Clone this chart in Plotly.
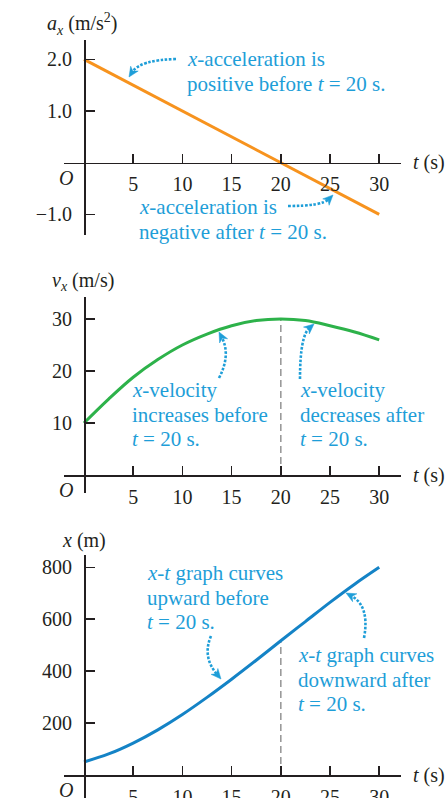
import plotly.graph_objects as go

W, H = 446, 798

# ---------------- data ----------------
t_acc = [0, 30]
a_x = [2.0, -1.0]

t_vel = [0, 2.5, 5, 7.5, 10, 12.5, 15, 17.5, 20, 22.5, 25, 27.5, 30]
v_x = [10.0, 14.6, 18.8, 22.2, 25.0, 27.1, 28.7, 29.7, 30.0, 29.7, 28.7, 27.5, 26.0]

t_pos = [0, 2.5, 5, 7.5, 10, 12.5, 15, 17.5, 20, 22.5, 25, 27.5, 30]
x_pos = [50, 81, 123, 174, 233, 299, 369, 442, 517, 591, 665, 735, 800]

t_ticks = [5, 10, 15, 20, 25, 30]
a_ticks = [-1.0, 1.0, 2.0]
v_ticks = [10, 20, 30]
x_ticks = [200, 400, 600, 800]

t_mark = 20
v_at_mark = 30.0
x_at_mark = 517

# ---------------- styles ----------------
ORANGE = "#F7931E"
GREEN = "#2DB24A"
BLUE_LINE = "#1483C6"
BLUE_TXT = "#1E9ED8"
INK = "#231F20"
GREY = "#9A9A9A"
FONT = "Liberation Serif"
FS = 20
FS_NOTE = 21


def px(x):
    return x / W


def py(y):
    return 1 - y / H


T0 = 84.0      # pixel of t = 0
TPX = 9.84     # pixels per second
XDOM = (64, 401)

panels = [
    dict(ydom=(40, 235), zero=162.7, scale=51.7),
    dict(ydom=(297, 493), zero=475.0, scale=5.2),
    dict(ydom=(555, 798), zero=775.0, scale=0.2596),
]

fig = go.Figure()

fig.add_trace(go.Scatter(x=t_acc, y=a_x, mode="lines", xaxis="x", yaxis="y",
                         line=dict(color=ORANGE, width=3), hoverinfo="skip"))
fig.add_trace(go.Scatter(x=t_vel, y=v_x, mode="lines", xaxis="x2", yaxis="y2",
                         line=dict(color=GREEN, width=3, shape="spline"), hoverinfo="skip"))
fig.add_trace(go.Scatter(x=t_pos, y=x_pos, mode="lines", xaxis="x3", yaxis="y3",
                         line=dict(color=BLUE_LINE, width=3, shape="spline"), hoverinfo="skip"))

xrange_ = [(XDOM[0] - T0) / TPX, (XDOM[1] - T0) / TPX]
yticksets = [(a_ticks, [f"{v:.1f}".replace("-", "\u2212") for v in a_ticks]),
             (v_ticks, [str(v) for v in v_ticks]),
             (x_ticks, [str(v) for v in x_ticks])]

layout = dict(
    width=W, height=H, margin=dict(l=0, r=0, t=0, b=0, pad=0, autoexpand=False),
    paper_bgcolor="white", plot_bgcolor="rgba(0,0,0,0)", showlegend=False,
    font=dict(family=FONT, size=FS, color=INK),
)

for i, p in enumerate(panels):
    sfx = "" if i == 0 else str(i + 1)
    yr = [(p["zero"] - p["ydom"][1]) / p["scale"], (p["zero"] - p["ydom"][0]) / p["scale"]]
    ydom = [py(p["ydom"][1]), py(p["ydom"][0])]
    layout["xaxis" + sfx] = dict(
        domain=[px(XDOM[0]), px(XDOM[1])], range=xrange_, anchor="free",
        position=py(p["zero"]), showgrid=False, zeroline=False, automargin=False,
        showline=True, linecolor=INK, linewidth=1.5,
        ticks="inside", ticklen=9, tickwidth=1.5, tickcolor=INK,
        tickvals=t_ticks, ticktext=[str(v) for v in t_ticks],
        tickfont=dict(family=FONT, size=FS, color=INK), ticklabelstandoff=3,
        fixedrange=True,
    )
    tv, tt = yticksets[i]
    layout["yaxis" + sfx] = dict(
        domain=ydom, range=yr, anchor="free", position=px(T0),
        showgrid=False, zeroline=False, automargin=False,
        showline=True, linecolor=INK, linewidth=1.5,
        ticks="inside", ticklen=9, tickwidth=1.5, tickcolor=INK,
        tickvals=tv, ticktext=tt,
        tickfont=dict(family=FONT, size=FS, color=INK), ticklabelstandoff=8,
        fixedrange=True,
    )

fig.update_layout(**layout)

ann = []


def text(x, y, s, color=INK, anchor="left", size=FS):
    ann.append(dict(xref="paper", yref="paper", x=px(x), y=py(y), text=s,
                    showarrow=False, xanchor=anchor, yanchor="middle", align="left",
                    font=dict(family=FONT, size=size, color=color)))


def block(x, y0, lines, step=24.5):
    for k, s in enumerate(lines):
        text(x, y0 + k * step, s, color=BLUE_TXT, size=FS_NOTE)


# axis titles
text(45, 24, "<i>a<sub>x</sub></i> (m/s<sup>2</sup>)")
text(50, 282, "<i>v<sub>x</sub></i> (m/s)")
text(60, 540, "<i>x</i> (m)")
for p in panels:
    text(411, p["zero"], "<i>t</i> (s)")
    text(66, p["zero"] + 15, "<i>O</i>", anchor="center")

# notes
block(185, 59, ["<i>x</i>-acceleration is", "positive before <i>t</i> = 20 s."])
block(137, 207, ["<i>x</i>-acceleration is", "negative after <i>t</i> = 20 s."])
block(130, 390, ["<i>x</i>-velocity", "increases before", "<i>t</i> = 20 s."])
block(298, 390, ["<i>x</i>-velocity", "decreases after", "<i>t</i> = 20 s."])
block(145, 573, ["<i>x-t</i> graph curves", "upward before", "<i>t</i> = 20 s."])
block(296, 655, ["<i>x-t</i> graph curves", "downward after", "<i>t</i> = 20 s."])

# dotted curved arrows: start, control, tip (pixels)
arrows = [
    ((176, 59), (140, 60), (129, 77)),
    ((288, 206), (322, 206), (333, 195)),
    ((219, 378), (231, 355), (219, 332)),
    ((300, 379), (300, 336), (314, 324)),
    ((211, 636), (202, 657), (221, 679)),
    ((364, 638), (370, 606), (346, 593)),
]
shapes = []
for (s, c, e) in arrows:
    dx, dy = e[0] - c[0], e[1] - c[1]
    n = (dx * dx + dy * dy) ** 0.5
    ux, uy = dx / n, dy / n
    ex, ey = e[0] - ux * 6, e[1] - uy * 6
    path = (f"M {px(s[0])},{py(s[1])} Q {px(c[0])},{py(c[1])} "
            f"{px(ex)},{py(ey)}")
    shapes.append(dict(type="path", xref="paper", yref="paper", path=path,
                       line=dict(color=BLUE_TXT, width=2.6, dash="2.6px,1.6px")))
    L, hw = 10, 4.5
    bx, by = e[0] - ux * L, e[1] - uy * L
    nx, ny = -uy, ux
    pts = [(e[0], e[1]), (bx + nx * hw, by + ny * hw),
           (e[0] - ux * L * 0.7, e[1] - uy * L * 0.7), (bx - nx * hw, by - ny * hw)]
    head = "M " + " L ".join(f"{px(a)},{py(b)}" for a, b in pts) + " Z"
    shapes.append(dict(type="path", xref="paper", yref="paper", path=head,
                       fillcolor=BLUE_TXT, line=dict(color=BLUE_TXT, width=0.5)))

# dashed guide lines at t = 20 s
shapes.append(dict(type="line", xref="x2", yref="y2", x0=t_mark, x1=t_mark, y0=0, y1=v_at_mark,
                   line=dict(color=GREY, width=1.6, dash="7px,4px"), layer="below"))
shapes.append(dict(type="line", xref="x3", yref="y3", x0=t_mark, x1=t_mark, y0=0, y1=x_at_mark,
                   line=dict(color=GREY, width=1.6, dash="7px,4px"), layer="below"))

fig.update_layout(annotations=ann, shapes=shapes)

post = (
    "var s=document.createElement('style');"
    "s.textContent='html,body{margin:0!important;padding:0!important;overflow:hidden!important;}';"
    "document.head.appendChild(s);"
)

fig.write_html("out.html", config=dict(displayModeBar=False, staticPlot=True),
               post_script=post)
